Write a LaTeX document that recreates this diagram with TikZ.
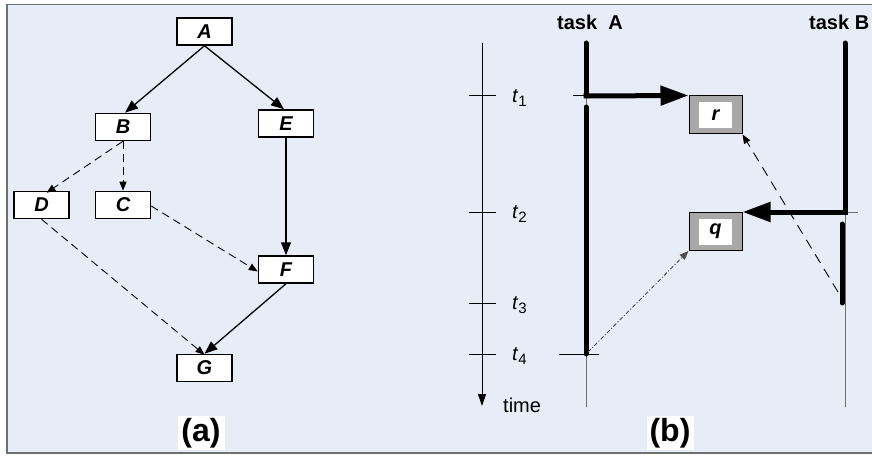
\documentclass[tikz,border=0pt]{standalone}
\usepackage{fontspec}
\setmainfont{Liberation Sans}
\usetikzlibrary{arrows.meta}
\definecolor{bg}{HTML}{E8ECF7}
\definecolor{thingray}{HTML}{707070}
\definecolor{boxgray}{HTML}{A8A8A8}
\begin{document}
\begin{tikzpicture}[x=1pt,y=-1pt,
  taskbox/.style={draw, line width=1.5pt, fill=white, minimum width=55pt, minimum height=27pt, inner sep=0pt, font=\fontsize{20}{20}\selectfont\bfseries\itshape},
  solidarr/.style={line width=1.3pt, -{Triangle[length=13pt,width=10pt]}},
  dasharr/.style={line width=0.9pt, dash pattern=on 8pt off 5pt, -{Triangle[length=9pt,width=7pt]}},
  resbox/.style={draw=black, line width=1pt, fill=boxgray, minimum width=53pt, minimum height=38pt, inner sep=0pt},
  resin/.style={fill=white, minimum width=33pt, minimum height=26pt, inner sep=0pt, font=\fontsize{20}{20}\selectfont\bfseries\itshape},
  thickline/.style={line width=5pt, line cap=round},
  thinline/.style={line width=1pt, draw=thingray},
  axis/.style={line width=1pt},
  tlabel/.style={anchor=west, inner sep=0pt, font=\fontsize{20}{20}\selectfont},
  caption/.style={fill=white, minimum width=47pt, minimum height=34pt, inner sep=0pt, font=\fontsize{32}{32}\selectfont\bfseries},
  tasklabel/.style={inner sep=0pt, font=\fontsize{20}{20}\selectfont\bfseries}
]
\useasboundingbox (0,0) rectangle (872,457);
% frame
\fill[white] (0,0) rectangle (872,457);
\filldraw[fill=bg, draw=thingray, line width=1.5pt] (7,4.5) rectangle (890,453);

% ---------- (a) ----------
\node[taskbox] (A) at (204.5,31.5) {A};
\node[taskbox] (B) at (123,127) {B};
\node[taskbox] (E) at (286,123.5) {E};
\node[taskbox] (D) at (41.5,205) {D};
\node[taskbox] (C) at (123,205) {C};
\node[taskbox] (F) at (286,269.5) {F};
\node[taskbox] (G) at (204.5,368) {G};

\draw[solidarr] (A.south) -- ([xshift=2pt]B.north);
\draw[solidarr] (A.south) -- ([xshift=-2pt]E.north);
\draw[solidarr] (E.south) -- (F.north);
\draw[solidarr] (F.south) -- (G.north);
\draw[dasharr] (B.south) -- ([xshift=5pt,yshift=-2pt]D.north);
\draw[dasharr] (B.south) -- (C.north);
\draw[dasharr] ([yshift=-1pt]C.east) -- ([yshift=-2pt]F.west);
\draw[dasharr] (D.south) -- ([yshift=-1pt]G.north);

\node[caption] (capa) at (201,433) {(a)};

% ---------- (b) ----------
\node[tasklabel] (taskA) at (590,22) {task\ \ A};
\node[tasklabel, anchor=west] (taskB) at (809,22) {task B};

% time axis
\coordinate (axtop) at (482,43);
\coordinate (axend) at (482,406);
\draw[axis, -{Triangle[length=12pt,width=8pt]}] (axtop) -- (axend);
\foreach \y in {96,212,303,354} \draw[axis] (469,\y) -- (496,\y);
\node[tlabel] (t1) at (512,98) {\textit{t}\raisebox{-0.45ex}{\fontsize{15}{15}\selectfont 1}};
\node[tlabel] (t2) at (512,214) {\textit{t}\raisebox{-0.45ex}{\fontsize{15}{15}\selectfont 2}};
\node[tlabel] (t3) at (512,305) {\textit{t}\raisebox{-0.45ex}{\fontsize{15}{15}\selectfont 3}};
\node[tlabel] (t4) at (512,356) {\textit{t}\raisebox{-0.45ex}{\fontsize{15}{15}\selectfont 4}};
\node[tlabel] (timelab) at (503,405) {time};

% resource boxes
\node[resbox] (r) at (715.5,115) {};
\node[resin] (rin) at (r.center) {r};
\node[resbox] (q) at (715.5,231.5) {};
\node[resin] (qin) at (q.center) {q};

% task A timeline
\coordinate (Atop) at (586,43);
\coordinate (At1) at (586,96);
\coordinate (Aresume) at (586,107);
\coordinate (At4) at (586,354);
\coordinate (Abot) at (586,407);
\draw[thinline] (Atop) -- (Abot);
\draw[axis] (573,96) -- (At1);
\draw[axis] (559,354) -- (599,354);
\draw[thickline] (Aresume) -- (At4);
\draw[line width=5pt, line cap=round] (Atop) -- (At1);
\draw[line width=5pt, -{Triangle[length=28pt,width=19pt]}] ([xshift=-2.5pt]At1) -- (r.north west);

% task B timeline
\coordinate (Btop) at (845,43);
\coordinate (Bt2) at (845,212);
\coordinate (Bbot) at (845,407);
\coordinate (Bres) at (842,224);
\coordinate (Bt3) at (842,303);
\draw[thinline] (Btop) -- (Bbot);
\draw[thinline] (Bt2) -- (858,212);
\draw[line width=5pt, line cap=round] (Btop) -- (Bt2);
\draw[line width=5pt, -{Triangle[length=28pt,width=19pt]}] ([xshift=2.5pt]Bt2) -- (q.north east);
\draw[thickline] (Bres) -- (Bt3);

% access arrows
\coordinate (Bacc) at (838,292);
\coordinate (Aacc) at (588,352);
\draw[line width=0.9pt, dash pattern=on 10pt off 7pt, -{Triangle[length=9pt,width=7pt]}] (Bacc) -- (r.south east);
\draw[line width=0.9pt, draw=black!70, dash pattern=on 4pt off 2pt on 1pt off 2pt, -{Triangle[length=9pt,width=7pt]}] (Aacc) -- (q.south west);

\node[caption] (capb) at (670,433) {(b)};
\end{tikzpicture}
\end{document}
